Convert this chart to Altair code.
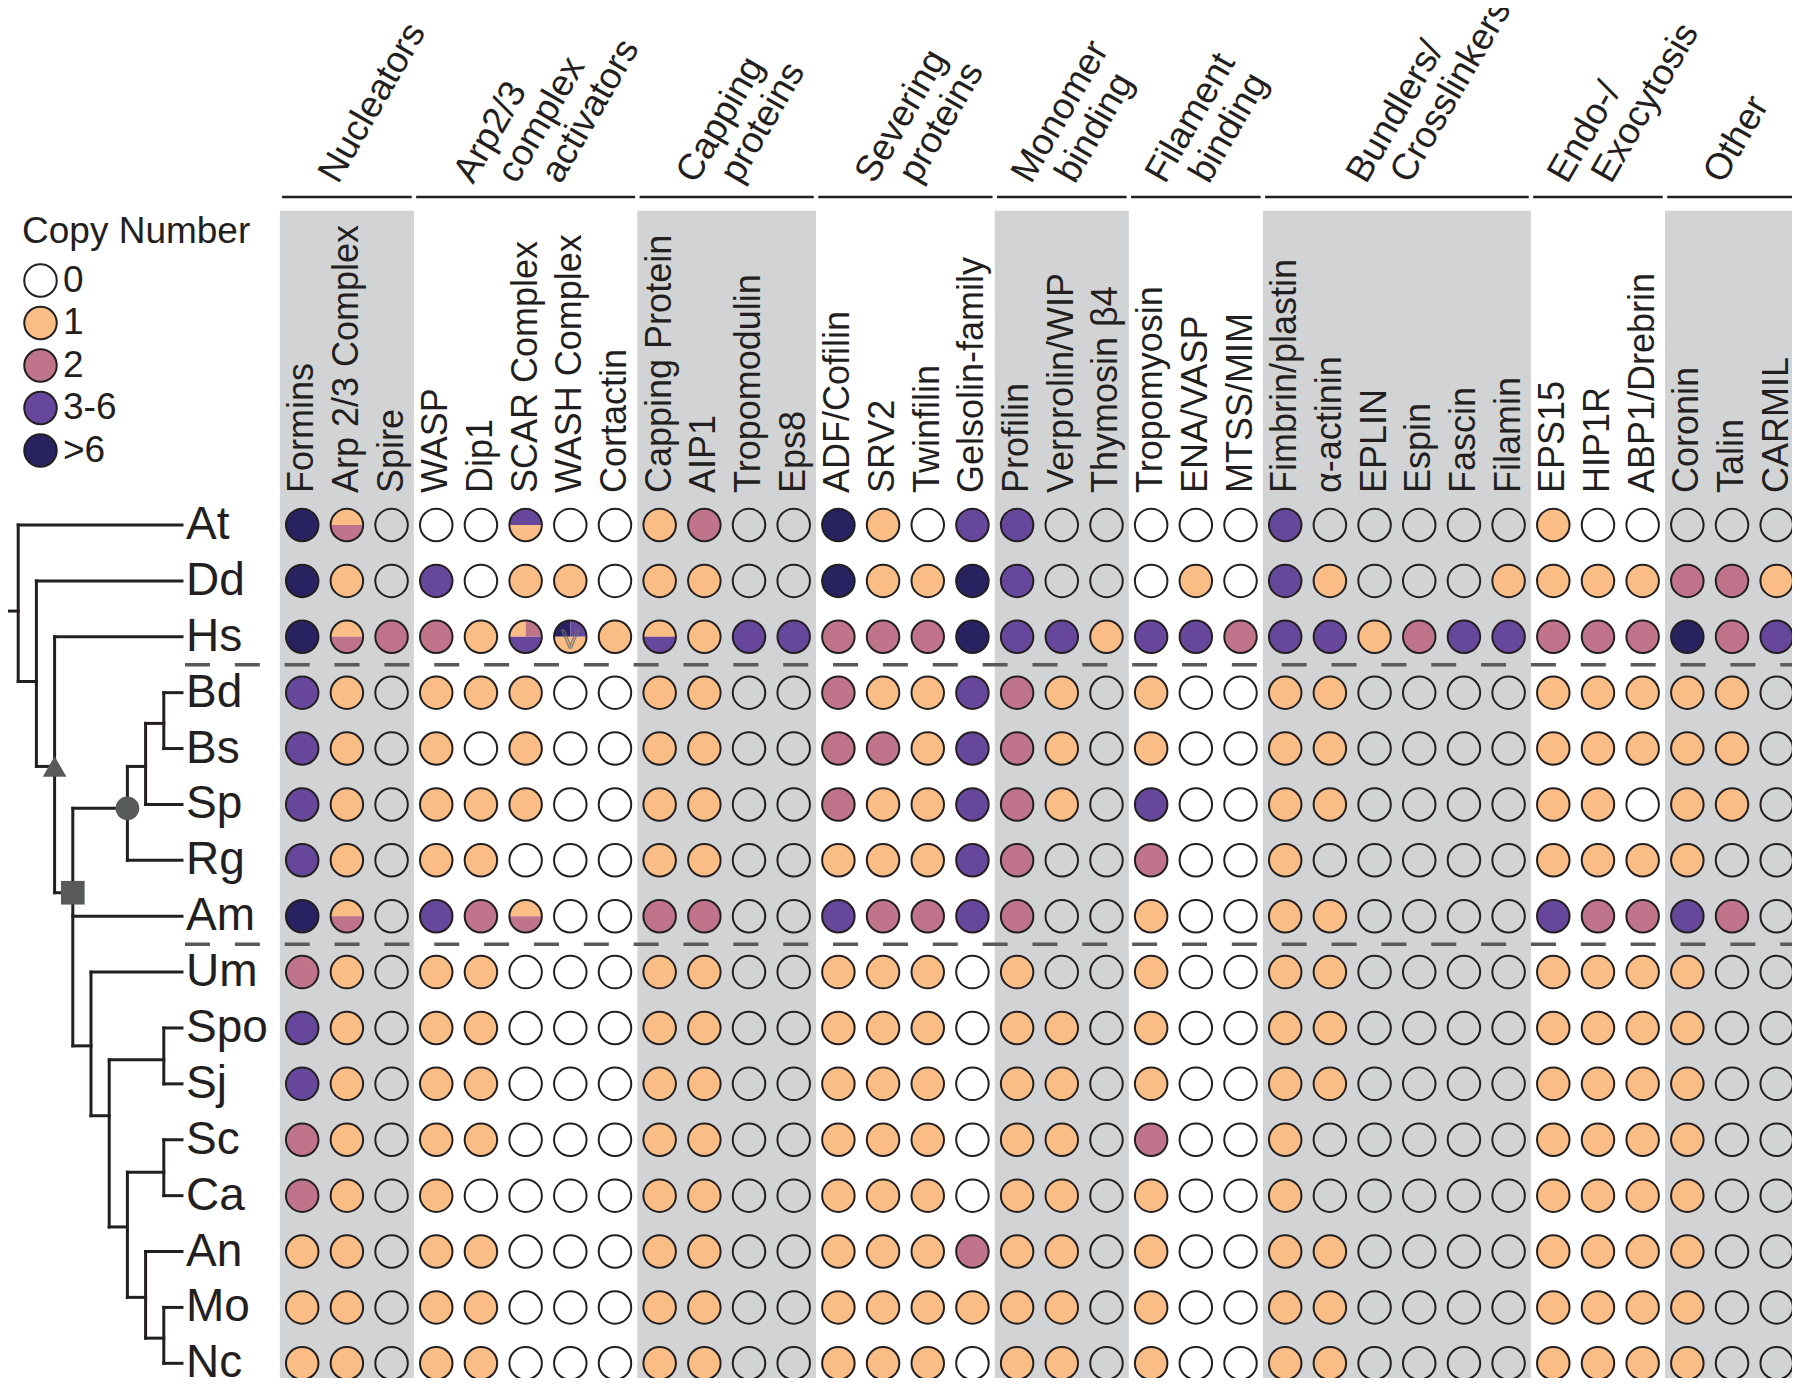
import altair as alt
import pandas as pd

# ---------------- data ----------------
species = ["At", "Dd", "Hs", "Bd", "Bs", "Sp", "Rg", "Am",
           "Um", "Spo", "Sj", "Sc", "Ca", "An", "Mo", "Nc"]

proteins = ["Formins", "Arp 2/3 Complex", "Spire",
            "WASP", "Dip1", "SCAR Complex", "WASH Complex", "Cortactin",
            "Capping Protein", "AIP1", "Tropomodulin", "Eps8",
            "ADF/Cofilin", "SRV2", "Twinfilin", "Gelsolin-family",
            "Profilin", "Verprolin/WIP", "Thymosin β4",
            "Tropomyosin", "ENA/VASP", "MTSS/MIM",
            "Fimbrin/plastin", "α-actinin", "EPLIN", "Espin", "Fascin", "Filamin",
            "EPS15", "HIP1R", "ABP1/Drebrin",
            "Coronin", "Talin", "CARMIL"]

group_lines = [["Nucleators"], ["Arp2/3", "complex", "activators"],
               ["Capping", "proteins"], ["Severing", "proteins"],
               ["Monomer", "binding"], ["Filament", "binding"],
               ["Bundlers/", "Crosslinkers"], ["Endo-/", "Exocytosis"], ["Other"]]
group_sizes = [3, 5, 4, 4, 3, 3, 6, 3, 3]
group_shaded = [True, False, True, False, True, False, True, False, True]

copy_levels = ["0", "1", "2", "3-6", ">6"]
level_colors = ["transparent", "#FBBD86", "#C0748C", "#67479B", "#282261"]

# 0..4 = index into copy_levels; "a/b" = top/bottom halves; "a:b/c" = top-left:top-right/bottom
copies = {
    "At":  [4, "1/2", 0, 0, 0, "3/1", 0, 0, 1, 2, 0, 0, 4, 1, 0, 3, 3, 0, 0, 0, 0, 0, 3, 0, 0, 0, 0, 0, 1, 0, 0, 0, 0, 0],
    "Dd":  [4, 1, 0, 3, 0, 1, 1, 0, 1, 1, 0, 0, 4, 1, 1, 4, 3, 0, 0, 0, 1, 0, 3, 1, 0, 0, 0, 1, 1, 1, 1, 2, 2, 1],
    "Hs":  [4, "1/2", 2, 2, 1, "1:2/3", "4:3/1", 1, "1/3", 1, 3, 3, 2, 2, 2, 4, 3, 3, 1, 3, 3, 2, 3, 3, 1, 2, 3, 3, 2, 2, 2, 4, 2, 3],
    "Bd":  [3, 1, 0, 1, 1, 1, 0, 0, 1, 1, 0, 0, 2, 1, 1, 3, 2, 1, 0, 1, 0, 0, 1, 1, 0, 0, 0, 0, 1, 1, 1, 1, 1, 0],
    "Bs":  [3, 1, 0, 1, 0, 1, 0, 0, 1, 1, 0, 0, 2, 2, 1, 3, 2, 1, 0, 1, 0, 0, 1, 1, 0, 0, 0, 0, 1, 1, 1, 1, 1, 0],
    "Sp":  [3, 1, 0, 1, 1, 1, 0, 0, 1, 1, 0, 0, 2, 1, 1, 3, 2, 1, 0, 3, 0, 0, 1, 1, 0, 0, 0, 0, 1, 1, 0, 1, 1, 0],
    "Rg":  [3, 1, 0, 1, 1, 0, 0, 0, 1, 1, 0, 0, 1, 1, 1, 3, 2, 0, 0, 2, 0, 0, 1, 0, 0, 0, 0, 0, 1, 1, 1, 1, 0, 0],
    "Am":  [4, "1/2", 0, 3, 2, "1/2", 0, 0, 2, 2, 0, 0, 3, 2, 2, 3, 2, 0, 0, 1, 0, 0, 1, 1, 0, 0, 0, 0, 3, 2, 2, 3, 2, 0],
    "Um":  [2, 1, 0, 1, 1, 0, 0, 0, 1, 1, 0, 0, 1, 1, 1, 0, 1, 0, 0, 1, 0, 0, 1, 1, 0, 0, 0, 0, 1, 1, 1, 1, 0, 0],
    "Spo": [3, 1, 0, 1, 1, 0, 0, 0, 1, 1, 0, 0, 1, 1, 1, 0, 1, 1, 0, 1, 0, 0, 1, 1, 0, 0, 0, 0, 1, 1, 1, 1, 0, 0],
    "Sj":  [3, 1, 0, 1, 1, 0, 0, 0, 1, 1, 0, 0, 1, 1, 1, 0, 1, 1, 0, 1, 0, 0, 1, 1, 0, 0, 0, 0, 1, 1, 1, 1, 0, 0],
    "Sc":  [2, 1, 0, 1, 1, 0, 0, 0, 1, 1, 0, 0, 1, 1, 1, 0, 1, 1, 0, 2, 0, 0, 1, 0, 0, 0, 0, 0, 1, 1, 1, 1, 0, 0],
    "Ca":  [2, 1, 0, 1, 0, 0, 0, 0, 1, 1, 0, 0, 1, 1, 1, 0, 1, 1, 0, 1, 0, 0, 1, 0, 0, 0, 0, 0, 1, 1, 1, 1, 0, 0],
    "An":  [1, 1, 0, 1, 1, 0, 0, 0, 1, 1, 0, 0, 1, 1, 1, 2, 1, 1, 0, 1, 0, 0, 1, 1, 0, 0, 0, 0, 1, 1, 1, 1, 0, 0],
    "Mo":  [1, 1, 0, 1, 1, 0, 0, 0, 1, 1, 0, 0, 1, 1, 1, 1, 1, 1, 0, 1, 0, 0, 1, 1, 0, 0, 0, 0, 1, 1, 1, 1, 0, 0],
    "Nc":  [1, 1, 0, 1, 1, 0, 0, 0, 1, 1, 0, 0, 1, 1, 1, 0, 1, 1, 0, 1, 0, 0, 1, 1, 0, 0, 0, 0, 1, 1, 1, 1, 0, 0],
}

# cladogram: (node, parent, depth level, row position)
tree_internal = [
    ("R", None, 0, 1.54), ("N1", "R", 1, 1.54), ("N2", "N1", 2, 2.8), ("N3", "N2", 3, 4.32),
    ("N4", "N3", 4, 6.58), ("N5", "N4", 7, 5.07), ("N6", "N5", 8, 4.32), ("N7", "N6", 9, 3.55),
    ("NF", "N4", 5, 9.32), ("NG", "NF", 6, 10.57), ("NSS", "NG", 9, 9.57), ("NH", "NG", 7, 12.56),
    ("NSC", "NH", 9, 11.58), ("NI", "NH", 8, 13.82), ("NMN", "NI", 9, 14.55),
]
leaf_parent = ["N1", "N2", "N3", "N7", "N7", "N6", "N5", "N4",
               "NF", "NSS", "NSS", "NSC", "NSC", "NI", "NMN", "NMN"]
leaf_depth = 10
node_markers = [("N3", "triangle-up"), ("N4", "square"), ("N5", "circle")]
separator_after = ["Hs", "Am"]
annotations = [("Hs", "WASH Complex", "V")]

# ---------------- build tables ----------------
INK = "#231f20"
FONT = "Liberation Sans"
K = 0.5523
PATHS = {
    "full": "circle",
    "top": f"M-1,0C-1,-{K},-{K},-1,0,-1C{K},-1,1,-{K},1,0Z",
    "bottom": f"M-1,0C-1,{K},-{K},1,0,1C{K},1,1,{K},1,0Z",
    "tl": f"M0,0L-1,0C-1,-{K},-{K},-1,0,-1Z",
    "tr": f"M0,0L0,-1C{K},-1,1,-{K},1,0Z",
}

pieces, cells = [], []
for r, sp in enumerate(species):
    vals = copies[sp]
    assert len(vals) == len(proteins)
    for c, v in enumerate(vals):
        cells.append({"row": r, "col": c})
        if isinstance(v, int):
            parts = [("full", v)]
        elif ":" in v:
            top, bot = v.split("/")
            a, b = top.split(":")
            parts = [("tl", int(a)), ("tr", int(b)), ("bottom", int(bot))]
        else:
            a, b = v.split("/")
            parts = [("top", int(a)), ("bottom", int(b))]
        for p, lv in parts:
            pieces.append({"row": r, "col": c, "path": PATHS[p], "level": copy_levels[lv]})
pieces = pd.DataFrame(pieces)
cells = pd.DataFrame(cells)

bands, hlines, htext = [], [], []
start = 0
for lines, n, shaded in zip(group_lines, group_sizes, group_shaded):
    first, last = start, start + n - 1
    if shaded:
        bands.append({"x0": first - 0.5, "x1": last + 0.5})
    hlines.append({"x0": first - 0.45, "x1": last + 0.45})
    center = (first + last) / 2
    m = len(lines)
    for i, t in enumerate(lines):
        htext.append({"x": center - 0.2 + 0.98 * (i - (m - 1) / 2), "t": t})
    start += n
bands, hlines, htext = pd.DataFrame(bands), pd.DataFrame(hlines), pd.DataFrame(htext)

collab = pd.DataFrame({"col": range(len(proteins)), "name": proteins})

nodes = {n: {"parent": p, "depth": d, "row": rw} for n, p, d, rw in tree_internal}
for i, sp in enumerate(species):
    nodes[sp] = {"parent": leaf_parent[i], "depth": leaf_depth, "row": float(i)}
segs = []
children = {}
for n, info in nodes.items():
    if info["parent"] is not None:
        par = nodes[info["parent"]]
        segs.append({"x": par["depth"], "x2": info["depth"], "y": info["row"], "y2": info["row"]})
        children.setdefault(info["parent"], []).append(info["row"])
for n, rows in children.items():
    if len(rows) > 1:
        segs.append({"x": nodes[n]["depth"], "x2": nodes[n]["depth"], "y": min(rows), "y2": max(rows)})
segs = pd.DataFrame(segs)
markers = pd.DataFrame([{"depth": nodes[n]["depth"], "row": nodes[n]["row"], "shape": s}
                        for n, s in node_markers])
leaves = pd.DataFrame({"sp": species, "row": range(len(species)), "depth": leaf_depth})
seps = pd.DataFrame({"row": [species.index(s) + 0.5 for s in separator_after]})
ann = pd.DataFrame([{"row": species.index(s), "col": proteins.index(p), "t": t} for s, p, t in annotations])

# ---------------- scales ----------------
colscale = alt.Scale(domain=[0, len(proteins) - 1], range=[294.2, 1768.7], nice=False, zero=False)
rowscale = alt.Scale(domain=[0, len(species) - 1], range=[517, 1355.3], nice=False, zero=False)
treescale = alt.Scale(domain=[0, leaf_depth], range=[-8, 174], nice=False, zero=False)

X = lambda f: alt.X(f, type="quantitative", scale=colscale, axis=None)
Y = lambda f: alt.Y(f, type="quantitative", scale=rowscale, axis=None)
TX = lambda f: alt.X(f, type="quantitative", scale=treescale, axis=None)

band_layer = alt.Chart(bands).mark_rect(color="#D1D3D4").encode(
    x=X("x0"), x2="x1", y=alt.value(202.7), y2=alt.value(1370))

hline_layer = alt.Chart(hlines).mark_rule(color=INK, strokeWidth=2.5).encode(
    x=X("x0"), x2="x1", y=alt.value(189))

htext_layer = alt.Chart(htext).mark_text(
    align="left", baseline="alphabetic", angle=300, fontSize=37, font=FONT, color=INK
).encode(x=X("x"), y=alt.value(177), text="t:N")

collab_layer = alt.Chart(collab).mark_text(
    align="left", baseline="middle", angle=270, fontSize=36, font=FONT, color=INK
).encode(x=X("col"), y=alt.value(485), text="name:N")

sep_layer = alt.Chart(seps).mark_rule(
    color="#58595b", strokeWidth=3.5, strokeDash=[25, 24.85]
).encode(y=Y("row"), x=alt.value(177), x2=alt.value(1784))

tree_layer = alt.Chart(segs).mark_rule(color=INK, strokeWidth=3, strokeCap="square").encode(
    x=TX("x"), x2="x2", y=Y("y"), y2="y2")

marker_layer = alt.Chart(markers).mark_point(
    filled=True, opacity=1, color="#58595b", size=560
).encode(x=TX("depth"), y=Y("row"), shape=alt.Shape("shape:N", scale=None))

leaf_layer = alt.Chart(leaves).mark_text(
    align="left", baseline="middle", fontSize=46, font=FONT, color=INK, dx=4
).encode(x=TX("depth"), y=Y("row"), text="sp:N")

piece_layer = alt.Chart(pieces).mark_point(
    filled=True, opacity=1, strokeWidth=0, size=1056
).encode(
    x=X("col"), y=Y("row"),
    shape=alt.Shape("path:N", scale=None),
    fill=alt.Fill("level:N", scale=alt.Scale(domain=copy_levels, range=level_colors),
                  legend=alt.Legend(
                      title="Copy Number", orient="none", legendX=14, legendY=206,
                      symbolType="circle", symbolSize=1056, symbolStrokeColor=INK,
                      symbolStrokeWidth=2, symbolOpacity=1,
                      labelFontSize=37, labelFont=FONT, labelColor=INK, labelOffset=4,
                      labelLimit=300,
                      titleFontSize=37, titleFont=FONT, titleColor=INK, titleFontWeight="normal",
                      titleLimit=400, titlePadding=11, rowPadding=1.5, padding=0)),
)

outline_layer = alt.Chart(cells).mark_point(
    shape="circle", filled=False, opacity=1, stroke=INK, strokeWidth=2, size=1056
).encode(x=X("col"), y=Y("row"))

ann_layer = alt.Chart(ann).mark_text(
    fontSize=26, font=FONT, fillOpacity=0, stroke="#6d6e71", strokeWidth=1,
    baseline="middle", dy=3
).encode(x=X("col"), y=Y("row"), text="t:N")

chart = alt.layer(
    band_layer, hline_layer, htext_layer, collab_layer, sep_layer,
    tree_layer, marker_layer, leaf_layer, piece_layer, outline_layer, ann_layer
).resolve_scale(x="independent", y="independent").properties(
    width=1784, height=1370, padding=0, autosize="none"
).configure(font=FONT).configure_view(stroke=None)

chart.save("out.html", embed_options={"renderer": "svg", "actions": False})
